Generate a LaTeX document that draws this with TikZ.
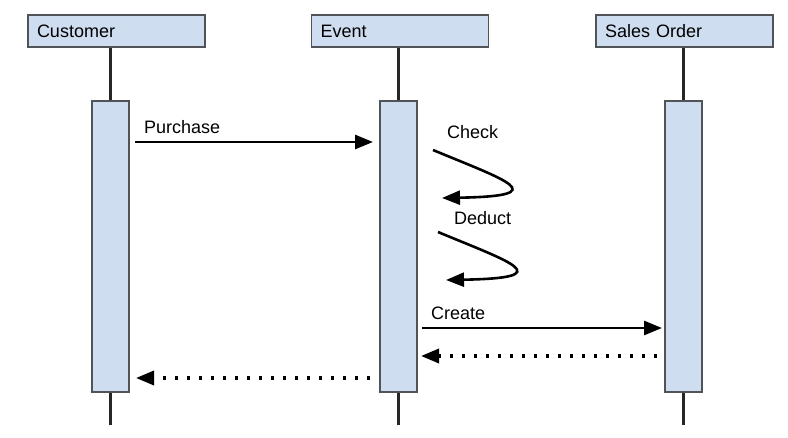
\documentclass[tikz,border=0pt]{standalone}
\usepackage{fontspec}
\setmainfont{Liberation Sans}
\usetikzlibrary{arrows.meta,positioning,calc}

\definecolor{barFill}{HTML}{CFDDF0}
\definecolor{barDraw}{HTML}{505458}

\begin{document}
\begin{tikzpicture}[
	x=1pt, y=-1pt,
	font=\fontsize{18}{20}\selectfont
	]
\tikzset{
	base/.style = { rectangle, draw=barDraw, fill=barFill, line width=1.2pt },
	header/.style = { base, minimum width=177pt, minimum height=32pt, text width=159pt, inner xsep=9pt, align=left },
	activation/.style = { base, minimum width=37pt, minimum height=291pt },
	lifeline/.style = { line width=2.2pt, draw=black!85 },
	msg/.style = { line width=2.8pt, -{Triangle[length=18pt,width=14pt]} },
	reply/.style = { msg, line width=3.4pt, dash pattern=on 3.4pt off 8.6pt },
	selfmsg/.style = { msg, line width=2.6pt },
	label/.style = { anchor=west, inner sep=0pt }
}
	\useasboundingbox (0,0) rectangle (788,438);

	% headers
	\node (customer) [header] at (116.5,31) {Customer};
	\node (event) [header] at (400,31) {Event};
	\node (salesOrder) [header] at (684.5,31) {Sales Order};

	% activation bars
	\node (customerBar) [activation] at (110.5,246.5) {};
	\node (eventBar) [activation] at (398.5,246.5) {};
	\node (salesOrderBar) [activation] at (683.5,246.5) {};

	% lifeline ends
	\coordinate (customerEnd) at (customerBar.south |- 0,425);
	\coordinate (eventEnd) at (eventBar.south |- 0,425);
	\coordinate (salesOrderEnd) at (salesOrderBar.south |- 0,425);

	% lifelines
	\draw [lifeline] (customerBar.north |- customer.south) -- (customerBar.north);
	\draw [lifeline] (eventBar.north |- event.south) -- (eventBar.north);
	\draw [lifeline] (salesOrderBar.north |- salesOrder.south) -- (salesOrderBar.north);
	\draw [lifeline] (customerBar.south) -- (customerEnd);
	\draw [lifeline] (eventBar.south) -- (eventEnd);
	\draw [lifeline] (salesOrderBar.south) -- (salesOrderEnd);

	% message points
	\coordinate (purchaseFrom) at (135,142);
	\coordinate (purchaseTo) at (373,142);
	\coordinate (checkFrom) at (433,150);
	\coordinate (checkTo) at (442,198);
	\coordinate (deductFrom) at (438,232);
	\coordinate (deductTo) at (446,280);
	\coordinate (createFrom) at (422,328);
	\coordinate (createTo) at (662,328);
	\coordinate (replyEventFrom) at (657,356);
	\coordinate (replyEventTo) at (421,356);
	\coordinate (replyCustomerFrom) at (370,378);
	\coordinate (replyCustomerTo) at (136,378);

	% labels
	\node (purchaseLabel) [label] at (144,127) {Purchase};
	\node (checkLabel) [label] at (447,132) {Check};
	\node (deductLabel) [label] at (454,218) {Deduct};
	\node (createLabel) [label] at (431,313) {Create};

	% paths
	\draw [msg] (purchaseFrom) -- (purchaseTo);
	\draw [selfmsg] (checkFrom) .. controls (505,180) and (556,196) .. (checkTo);
	\draw [selfmsg] (deductFrom) .. controls (510,262) and (561,278) .. (deductTo);
	\draw [msg] (createFrom) -- (createTo);
	\draw [reply] (replyEventFrom) -- (replyEventTo);
	\draw [reply] (replyCustomerFrom) -- (replyCustomerTo);
\end{tikzpicture}
\end{document}
